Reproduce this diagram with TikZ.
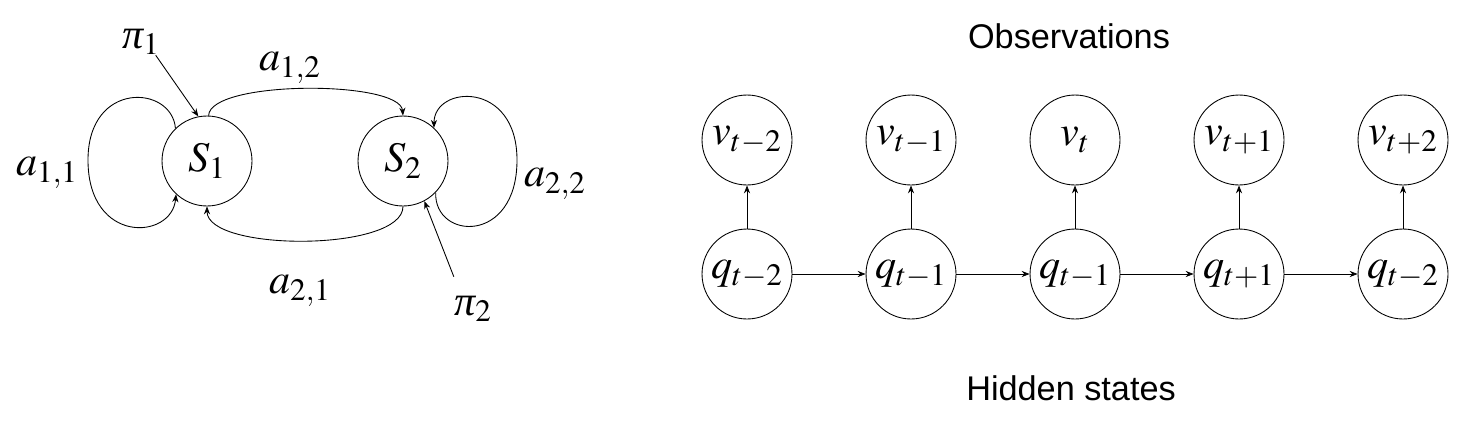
\documentclass[tikz,border=0pt]{standalone}
\usepackage{mathptmx}
\usepackage[no-math]{fontspec}
\setsansfont{Liberation Sans}
\newfontfamily\tms{Liberation Serif}
\usepackage{tikz}
\usetikzlibrary{arrows.meta,calc,positioning}

\newcommand{\ipi}{\mbox{\tms\itshape π}}

\tikzset{
  st/.style={circle, draw, line width=0.5pt, minimum size=1.8cm, inner sep=0pt, font=\fontsize{24}{28}\selectfont},
  lbl/.style={inner sep=0pt, font=\fontsize{24}{28}\selectfont},
  heading/.style={inner sep=0pt, font=\sffamily\fontsize{19.5}{23}\selectfont},
  arr/.style={-{Stealth[length=4.5pt,width=3.5pt]}, line width=0.5pt},
}

\begin{document}
\begin{tikzpicture}[x=0.02cm, y=-0.02cm]
\useasboundingbox (0,0) rectangle (1469,423);
% two state model
\node[st] (S1) at (207,161) {$S_1$};
\node[st] (S2) at (403,161) {$S_2$};
\node[lbl] (pi1) at (141,42) {$\ipi_1$};
\node[lbl] (pi2) at (473,309) {$\ipi_2$};
\node[lbl] (a11) at (47,173) {$a_{1,1}$};
\node[lbl] (a12) at (290,68) {$a_{1,2}$};
\node[lbl] (a21) at (300,291) {$a_{2,1}$};
\node[lbl] (a22) at (555,184) {$a_{2,2}$};
\coordinate (pi2tail) at ($(pi2.north west)+(0,-19)$);
\draw[arr] (S1.134) .. controls (172,85) and (88,80) .. (88,160)
  .. controls (88,245) and (172,240) .. (S1.227);
\draw[arr] (S2.316) .. controls (434,240) and (517,245) .. (517,160)
  .. controls (517,80) and (434,85) .. (S2.47);
\draw[arr] (S1.88) .. controls (210,80) and (400,80) .. (S2.90);
\draw[arr] (S2.270) .. controls (403,252) and (207,252) .. (S1.270);
\draw[arr] (pi1.-42) -- (S1.101);
\draw[arr] (pi2tail) -- (S2.-62);
% chain of observations / hidden states
\foreach \i/\x/\vs/\qs in {1/747/{t-2}/{t-2}, 2/911/{t-1}/{t-1}, 3/1075/t/{t-1}, 4/1239/{t+1}/{t+1}, 5/1403/{t+2}/{t-2}} {
  \node[st] (v\i) at (\x,140) {$v_{\vs}$};
  \node[st] (q\i) at (\x,274) {$q_{\qs}$};
  \draw[arr] (q\i) -- (v\i);
}
\foreach \i [evaluate=\i as \j using int(\i+1)] in {1,...,4}
  \draw[arr] (q\i) -- (q\j);
\node[heading] (obs) at (1069,36) {Observations};
\node[heading] (hid) at (1071,388) {Hidden states};
\end{tikzpicture}
\end{document}
